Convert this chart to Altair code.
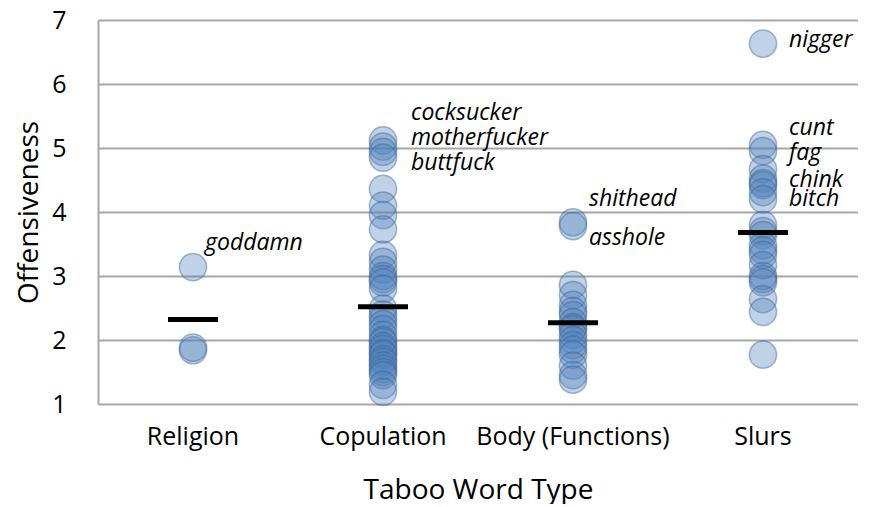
import altair as alt
import pandas as pd

categories = ["Religion", "Copulation", "Body (Functions)", "Slurs"]

religion = [3.14, 1.84, 1.88]
copulation = [5.12, 5.02, 4.94, 4.85, 4.36, 4.10, 3.95, 3.73, 3.33, 3.22, 3.10,
              3.00, 2.95, 2.90, 2.80, 2.49, 2.40, 2.33, 2.25, 2.17, 2.08, 2.00,
              1.97, 1.90, 1.86, 1.80, 1.77, 1.70, 1.66, 1.60, 1.55, 1.50, 1.45,
              1.30, 1.19]
body = [3.84, 3.78, 2.86, 2.70, 2.55, 2.45, 2.39, 2.28, 2.20, 2.17, 2.08, 2.00,
        1.92, 1.85, 1.77, 1.60, 1.45, 1.38]
slurs = [6.63, 5.05, 4.95, 4.67, 4.52, 4.45, 4.42, 4.31, 4.20, 3.80, 3.70, 3.64,
         3.48, 3.40, 3.33, 3.17, 3.00, 2.95, 2.90, 2.64, 2.44, 1.77]
means = [2.32, 2.52, 2.27, 3.68]

label_religion = ["goddamn"]
label_religion_y = [3.40]
label_copulation = ["cocksucker", "motherfucker", "buttfuck"]
label_copulation_y = [5.43, 5.04, 4.65]
label_body = ["shithead", "asshole"]
label_body_y = [4.10, 3.48]
label_slurs = ["nigger", "cunt", "fag", "chink", "bitch"]
label_slurs_y = [6.58, 5.20, 4.81, 4.39, 4.10]

series = [religion, copulation, body, slurs]
points = pd.DataFrame(
    [{"type": c, "value": v} for c, vals in zip(categories, series) for v in vals]
)
mean_df = pd.DataFrame({"type": categories, "mean": means})

def labels_df(cat, words, ys):
    return pd.DataFrame({"type": [cat] * len(words), "word": words, "value": ys})

FONT = "Open Sans"

x_enc = alt.X(
    "type:N",
    sort=categories,
    scale=alt.Scale(domain=categories, paddingInner=0, paddingOuter=0),
    axis=alt.Axis(
        title="Taboo Word Type",
        labelAngle=0,
        labelFontSize=25,
        labelColor="#000000",
        labelPadding=20,
        labelLimit=400,
        titleFontSize=28,
        titleFontWeight="normal",
        titleColor="#000000",
        titlePadding=27,
        ticks=False,
        domain=False,
        grid=False,
    ),
)
y_scale = alt.Scale(domain=[1, 7], nice=False, zero=False)
y_enc = alt.Y(
    "value:Q",
    scale=y_scale,
    axis=alt.Axis(
        title="Offensiveness",
        values=[1, 2, 3, 4, 5, 6, 7],
        format="d",
        labelFontSize=25,
        labelColor="#000000",
        labelPadding=32,
        titleFontSize=28,
        titleFontWeight="normal",
        titleColor="#000000",
        titlePadding=8,
        ticks=False,
        domain=True,
        domainColor="#a6a6a6",
        domainWidth=2,
        grid=True,
        gridColor="#a6a6a6",
        gridWidth=2,
    ),
)

pts = alt.Chart(points).mark_circle(
    size=740,
    color="#4f81bd",
    fillOpacity=0.36,
    stroke="#3b6494",
    strokeOpacity=0.45,
    strokeWidth=1.5,
).encode(x=x_enc, y=y_enc)

mean_bars = alt.Chart(mean_df).mark_tick(
    color="#000000", size=50, thickness=5, opacity=1
).encode(x=alt.X("type:N", sort=categories), y=alt.Y("mean:Q", scale=y_scale))

def text_layer(df, dx):
    return alt.Chart(df).mark_text(
        align="left",
        baseline="alphabetic",
        dx=dx,
        font=FONT,
        fontSize=23,
        fontStyle="italic",
        color="#000000",
    ).encode(
        x=alt.X("type:N", sort=categories),
        y=alt.Y("value:Q", scale=y_scale),
        text="word:N",
    )

t1 = text_layer(labels_df("Religion", label_religion, label_religion_y), 12)
t2 = text_layer(labels_df("Copulation", label_copulation, label_copulation_y), 28)
t3 = text_layer(labels_df("Body (Functions)", label_body, label_body_y), 16)
t4 = text_layer(labels_df("Slurs", label_slurs, label_slurs_y), 26)

chart = (
    alt.layer(pts, mean_bars, t1, t2, t3, t4)
    .properties(width=760, height=384, padding={"left": 7, "top": 0, "right": 0, "bottom": 0})
    .configure(font=FONT)
    .configure_view(stroke=None)
)

chart.save("out.html", embed_options={"renderer": "svg", "actions": False})
